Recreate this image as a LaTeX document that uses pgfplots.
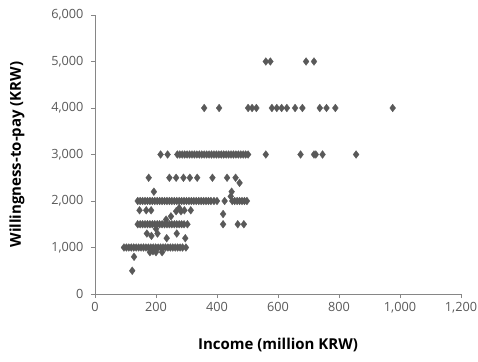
\documentclass[border=0pt]{standalone}
\usepackage{pgfplots}
\pgfplotsset{compat=1.18}
\usepackage{fontspec}
\setmainfont{Open Sans}
\definecolor{mk}{HTML}{595959}
\definecolor{ax}{HTML}{868686}
\definecolor{tl}{HTML}{595959}
\begin{document}
\begin{tikzpicture}
\begin{axis}[
  scale only axis, width=366pt, height=279pt,
  xmin=0, xmax=1200, ymin=0, ymax=6000,
  xtick={0,200,...,1200}, ytick={0,1000,...,6000},
  axis x line*=bottom, axis y line*=left,
  axis line style={ax, line width=0.6pt},
  tick align=outside, major tick length=4pt,
  every tick/.style={ax, line width=0.6pt},
  tick label style={font=\fontsize{12.7}{15}\selectfont, text=tl},
  xticklabel style={yshift=-1pt},
  yticklabel style={xshift=-4pt},
  /pgf/number format/assume math mode=true,
  /pgf/number format/1000 sep={,},
  scaled ticks=false,
  xlabel={\bfseries Income (million KRW)},
  ylabel={\bfseries Willingness-to-pay (KRW)},
  every axis x label/.style={at={(axis description cs:0.5,-0.183)}, anchor=center, font=\fontsize{15}{17}\selectfont\bfseries},
  every axis y label/.style={at={(axis description cs:-0.213,0.5)}, anchor=center, rotate=90, font=\fontsize{15}{17}\selectfont\bfseries},
  clip=false,
]
\addplot[only marks, mark=diamond*, mark size=3.9pt, mark options={fill=mk, draw=mk, line width=0.3pt}] table {
x y
560 5000
575 5000
692 5000
718 5000
358 4000
407 4000
502 4000
515 4000
529 4000
580 4000
596 4000
612 4000
629 4000
656 4000
680 4000
737 4000
759 4000
788 4000
976 4000
215 3000
238 3000
270 3000
278 3000
286 3000
294 3000
302 3000
310 3000
318 3000
326 3000
334 3000
342 3000
350 3000
358 3000
366 3000
374 3000
382 3000
390 3000
398 3000
406 3000
414 3000
422 3000
430 3000
438 3000
446 3000
454 3000
462 3000
470 3000
478 3000
486 3000
494 3000
502 3000
560 3000
674 3000
718 3000
724 3000
746 3000
856 3000
176 2500
244 2500
266 2500
290 2500
311 2500
335 2500
385 2500
433 2500
461 2500
474 2390
448 2200
445 2100
193 2200
140 2000
148 2000
156 2000
164 2000
172 2000
180 2000
188 2000
196 2000
204 2000
212 2000
220 2000
228 2000
236 2000
244 2000
252 2000
260 2000
268 2000
276 2000
284 2000
292 2000
300 2000
308 2000
316 2000
324 2000
332 2000
340 2000
348 2000
356 2000
364 2000
372 2000
380 2000
390 2000
400 2000
425 2000
450 2000
458 2000
466 2000
474 2000
482 2000
490 2000
498 2000
146 1800
168 1800
184 1800
314 1800
282 1780
293 1800
420 1720
233 1600
249 1670
266 1780
276 1850
140 1500
148 1500
156 1500
164 1500
172 1500
180 1500
188 1500
196 1500
204 1500
212 1500
220 1500
228 1500
236 1500
244 1500
252 1500
260 1500
268 1500
276 1500
284 1500
292 1500
303 1500
420 1500
468 1500
488 1500
200 1400
170 1300
185 1250
205 1300
235 1200
268 1300
296 1200
95 1000
103 1000
111 1000
119 1000
127 1000
135 1000
143 1000
151 1000
159 1000
167 1000
175 1000
183 1000
191 1000
199 1000
207 1000
215 1000
223 1000
231 1000
239 1000
247 1000
255 1000
263 1000
271 1000
279 1000
287 1000
298 1000
180 900
190 920
200 900
220 900
128 800
122 500
};
\end{axis}
\pgfresetboundingbox
\path (current axis.south west) ++(-95pt,-67pt) coordinate (bl);
\path (current axis.north east) ++(17pt,15pt) coordinate (tr);
\path[use as bounding box] (bl) rectangle (tr);
\end{tikzpicture}
\end{document}
